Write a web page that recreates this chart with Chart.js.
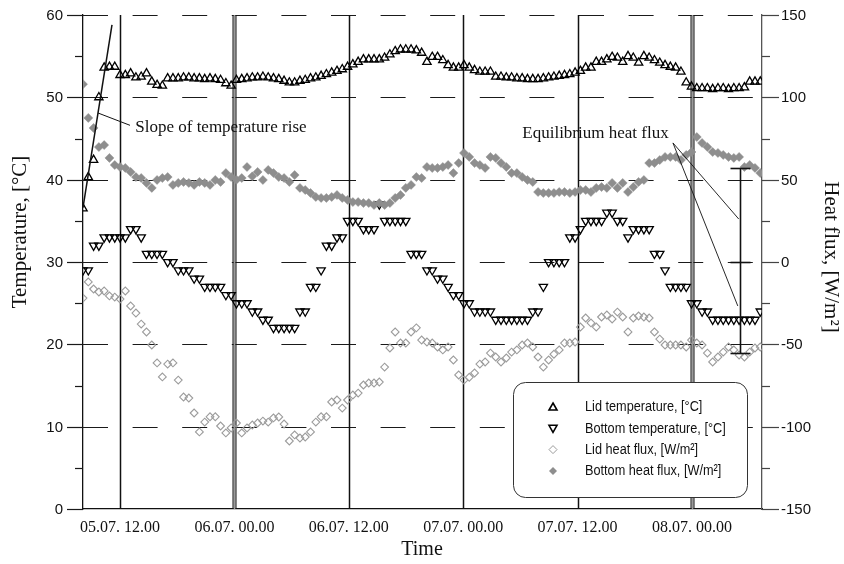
<!DOCTYPE html>
<html lang="en">
<head>
<meta charset="UTF-8">
<title>Lid and bottom temperature / heat flux</title>
<script src="https://cdn.jsdelivr.net/npm/chart.js"></script>
<style>
  html, body { margin: 0; padding: 0; background: #fff; }
  #wrap { width: 844px; height: 564px; }
</style>
</head>
<body>
<div id="wrap"><canvas id="chart" width="844" height="564"></canvas></div>
<script>
// readings start 05.07 ~08:07 and come about every 33 min (hours since 05.07 00:00)
const startHour = 8.12;
const stepHour = 0.555;

const lidTemp = [
  36.5, 40.3, 42.4, 50.0, 53.6, 53.7, 53.7, 52.7, 52.7, 52.9,
  52.4, 52.5, 52.9, 51.9, 51.5, 51.4, 52.3, 52.3, 52.3, 52.4,
  52.4, 52.3, 52.3, 52.2, 52.3, 52.2, 52.1, 51.7, 51.4, 52.1,
  52.2, 52.3, 52.4, 52.4, 52.5, 52.4, 52.3, 52.2, 52.0, 51.8,
  51.8, 52.0, 52.1, 52.3, 52.4, 52.6, 52.8, 53.0, 53.2, 53.4,
  53.7, 54.0, 54.3, 54.6, 54.6, 54.6, 54.6, 54.8, 55.2, 55.6,
  55.8, 55.8, 55.8, 55.7, 55.4, 54.3, 54.9, 54.9, 54.5, 53.9,
  53.6, 53.6, 53.9, 53.6, 53.3, 53.1, 53.1, 53.1, 52.5, 52.5,
  52.4, 52.4, 52.3, 52.3, 52.2, 52.2, 52.2, 52.3, 52.4, 52.5,
  52.6, 52.7, 52.8, 53.0, 53.2, 53.6, 53.6, 54.3, 54.3, 54.6,
  54.9, 54.8, 54.3, 55.0, 54.8, 54.2, 55.0, 54.8, 54.5, 54.2,
  53.9, 53.7, 53.6, 53.1, 51.8, 51.3, 51.1, 51.1, 51.1, 51.0,
  51.1, 51.1, 51.0, 51.1, 51.1, 51.2, 51.9, 51.9, 51.9
];

const bottomTemp = [
  29, 29, 32, 32, 33, 33, 33, 33, 33, 34,
  34, 33, 31, 31, 31, 31, 30, 30, 29, 29,
  29, 28, 28, 27, 27, 27, 27, 26, 26, 25,
  25, 25, 24, 24, 23, 23, 22, 22, 22, 22,
  22, 24, 24, 27, 27, 29, 32, 32, 33, 33,
  35, 35, 35, 34, 34, 34, 37, 35, 35, 35,
  35, 35, 31, 31, 31, 29, 29, 28, 28, 27,
  26, 26, 25, 25, 24, 24, 24, 24, 23, 23,
  23, 23, 23, 23, 23, 24, 24, 27, 30, 30,
  30, 30, 33, 33, 34, 35, 35, 35, 35, 36,
  36, 35, 35, 33, 34, 34, 34, 34, 31, 31,
  29, 27, 27, 27, 27, 25, 25, 24, 24, 23,
  23, 23, 23, 23, 23, 23, 23, 23, 24
];

const lidFlux = [
  -21.9, -12.1, -16.4, -18.2, -17.6, -20.6, -21.3, -22.5, -17.6, -26.7,
  -31.0, -37.7, -42.5, -50.4, -61.3, -69.8, -62.0, -61.3, -71.7, -82.0,
  -82.6, -91.7, -103.2, -97.2, -94.0, -94.0, -99.6, -103.8, -100.8, -97.8,
  -103.8, -100.8, -99.0, -97.8, -96.6, -97.2, -94.7, -94.1, -98.4, -108.7,
  -105.0, -106.9, -106.3, -103.2, -97.2, -94.0, -94.0, -85.0, -83.8, -88.7,
  -83.8, -80.8, -79.6, -74.7, -73.5, -73.5, -72.9, -63.8, -52.2, -42.5,
  -49.2, -49.2, -42.5, -40.0, -47.4, -48.6, -49.2, -51.6, -53.4, -51.6,
  -59.5, -68.6, -71.7, -70.0, -67.4, -62.0, -60.7, -55.3, -57.7, -60.7,
  -58.3, -54.7, -53.4, -50.4, -49.2, -51.6, -57.7, -63.8, -59.5, -56.0,
  -53.4, -49.2, -49.2, -48.6, -39.5, -34.0, -37.0, -39.5, -33.4, -32.2,
  -34.6, -30.4, -33.4, -42.5, -34.0, -32.8, -33.4, -34.0, -42.5, -46.8,
  -50.4, -50.4, -50.4, -50.4, -51.6, -47.4, -49.2, -50.4, -55.3, -60.7,
  -57.7, -54.7, -51.6, -53.4, -56.5, -57.7, -54.7, -52.2, -51.6
];

const bottomFlux = [
  108.0, 87.5, 81.4, 69.8, 71.0, 63.2, 58.9, 57.7, 57.1, 54.7,
  51.6, 51.0, 48.0, 45.0, 49.8, 51.0, 51.6, 46.8, 48.0, 48.6,
  48.0, 46.8, 48.6, 48.0, 46.8, 49.8, 48.6, 54.0, 51.6, 50.0,
  51.0, 57.7, 52.0, 54.7, 49.8, 55.9, 54.0, 51.6, 51.0, 48.6,
  52.8, 45.0, 43.7, 41.9, 39.5, 38.9, 38.9, 39.5, 40.7, 38.9,
  37.7, 36.4, 36.4, 35.8, 35.8, 34.6, 35.8, 34.6, 35.8, 38.9,
  40.7, 45.0, 46.8, 51.6, 51.0, 57.7, 57.1, 57.1, 57.7, 58.9,
  54.0, 60.1, 66.2, 63.8, 60.1, 58.9, 57.1, 63.8, 63.2, 60.1,
  57.7, 54.0, 54.0, 51.6, 49.8, 48.6, 42.5, 41.9, 41.9, 41.9,
  42.5, 42.5, 41.9, 42.5, 43.7, 43.7, 42.5, 45.0, 45.5, 45.0,
  48.0, 45.0, 48.0, 42.5, 45.5, 48.6, 49.8, 60.1, 60.1, 61.9,
  63.8, 63.8, 63.8, 61.9, 65.0, 66.8, 75.9, 72.3, 69.8, 66.8,
  66.2, 65.0, 63.8, 63.2, 63.8, 57.7, 58.9, 57.1, 54.0
];

const tickHours = [12, 24, 36, 48, 60, 72];
const tickLabels = ['05.07. 12.00', '06.07. 00.00', '06.07. 12.00', '07.07. 00.00', '07.07. 12.00', '08.07. 00.00'];
const midnightHours = [24, 72];
const tempTicks = [0, 10, 20, 30, 40, 50, 60];
const fluxTicks = [-150, -100, -50, 0, 50, 100, 150];

const seriesNames = ['Lid temperature, [°C]', 'Bottom temperature, [°C]', 'Lid heat flux, [W/m²]', 'Bottom heat flux, [W/m²]'];

// annotations (hour, value)
const slopeLine = [[8.12, 36.6], [11.16, 58.8]];
const slopePointer = [[9.69, 48.1], [13.05, 46.6]];
const slopeText = { hour: 13.6, temp: 46.3, text: 'Slope of temperature rise' };
const eqText = { hour: 54.2, flux: 78.3, text: 'Equilibrium heat flux' };
const eqPointers = [[[70.0, 72.3], [76.9, 26.1]], [[70.0, 72.3], [76.8, -26.7]]];
const eqBar = { hour: 77.03, top: 57.1, mid: 0, bottom: -55.3 };

const SERIF = '"Liberation Serif", "Times New Roman", serif';
const SANS = '"Liberation Sans", Arial, sans-serif';

const toPts = arr => arr.map((v, i) => ({ x: startHour + i * stepHour, y: v }));

function line(ctx, x1, y1, x2, y2) {
  ctx.beginPath(); ctx.moveTo(x1, y1); ctx.lineTo(x2, y2); ctx.stroke();
}

const decor = {
  id: 'decor',
  beforeDatasetsDraw(chart) {
    const { ctx, chartArea: a, scales: { x, yT, yQ } } = chart;
    ctx.save();
    ctx.strokeStyle = '#1a1a1a';
    ctx.lineWidth = 1.2;
    // dashed horizontal grid
    ctx.setLineDash([25, 24.6]);
    tempTicks.forEach(v => {
      if (v === 0) return;
      const y = Math.round(yT.getPixelForValue(v)) + 0.5;
      line(ctx, a.left, y, a.right, y);
    });
    ctx.setLineDash([]);
    // major + minor ticks and labels, left
    ctx.font = '15px ' + SANS;
    ctx.fillStyle = '#111';
    ctx.textBaseline = 'middle';
    ctx.textAlign = 'right';
    tempTicks.forEach(v => {
      const y = Math.round(yT.getPixelForValue(v)) + 0.5;
      line(ctx, a.left - 16, y, a.left, y);
      ctx.fillText(String(v), a.left - 20, y);
      if (v < 60) {
        const ym = Math.round(yT.getPixelForValue(v + 5)) + 0.5;
        line(ctx, a.left - 8, ym, a.left, ym);
      }
    });
    // right
    ctx.strokeStyle = '#444';
    ctx.textAlign = 'left';
    fluxTicks.forEach(v => {
      const y = Math.round(yQ.getPixelForValue(v)) + 0.5;
      line(ctx, a.right, y, a.right + 17, y);
      ctx.fillText(String(v), a.right + 19, y);
      if (v < 150) {
        const ym = Math.round(yQ.getPixelForValue(v + 25)) + 0.5;
        line(ctx, a.right, ym, a.right + 8, ym);
      }
    });
    // vertical time lines
    tickHours.forEach(h => {
      const px = Math.round(x.getPixelForValue(h)) + 0.5;
      if (midnightHours.includes(h)) {
        ctx.strokeStyle = '#9a9a9a'; ctx.lineWidth = 2;
        line(ctx, px, a.top, px, a.bottom);
        ctx.strokeStyle = '#111'; ctx.lineWidth = 1;
        line(ctx, px - 1.5, a.top, px - 1.5, a.bottom);
        line(ctx, px + 1.5, a.top, px + 1.5, a.bottom);
      } else {
        ctx.strokeStyle = '#111'; ctx.lineWidth = 1.5;
        line(ctx, px, a.top, px, a.bottom);
      }
    });
    ctx.restore();
  },
  afterDatasetsDraw(chart) {
    const { ctx, chartArea: a, scales: { x, yT, yQ } } = chart;
    ctx.save();
    // slope annotation
    ctx.strokeStyle = '#111'; ctx.lineWidth = 1.5;
    line(ctx, x.getPixelForValue(slopeLine[0][0]), yT.getPixelForValue(slopeLine[0][1]),
      x.getPixelForValue(slopeLine[1][0]), yT.getPixelForValue(slopeLine[1][1]));
    ctx.lineWidth = 1;
    line(ctx, x.getPixelForValue(slopePointer[0][0]), yT.getPixelForValue(slopePointer[0][1]),
      x.getPixelForValue(slopePointer[1][0]), yT.getPixelForValue(slopePointer[1][1]));
    ctx.fillStyle = '#111';
    ctx.font = '17px ' + SERIF;
    ctx.textBaseline = 'middle'; ctx.textAlign = 'left';
    ctx.fillText(slopeText.text, x.getPixelForValue(slopeText.hour), yT.getPixelForValue(slopeText.temp));
    // equilibrium annotation
    ctx.fillText(eqText.text, x.getPixelForValue(eqText.hour), yQ.getPixelForValue(eqText.flux));
    ctx.lineWidth = 0.9;
    eqPointers.forEach(p => line(ctx, x.getPixelForValue(p[0][0]), yQ.getPixelForValue(p[0][1]),
      x.getPixelForValue(p[1][0]), yQ.getPixelForValue(p[1][1])));
    const bx = Math.round(x.getPixelForValue(eqBar.hour)) + 0.5;
    ctx.lineWidth = 1.6;
    line(ctx, bx, yQ.getPixelForValue(eqBar.top), bx, yQ.getPixelForValue(eqBar.bottom));
    [eqBar.top, eqBar.mid, eqBar.bottom].forEach(v => {
      const y = Math.round(yQ.getPixelForValue(v)) + 0.5;
      line(ctx, bx - 10, y, bx + 10, y);
    });

    // legend box
    const lx = 513, ly = 382, lw = 234, lh = 115, r = 12;
    ctx.beginPath();
    ctx.roundRect(lx + 0.5, ly + 0.5, lw, lh, r);
    ctx.fillStyle = '#fff'; ctx.fill();
    ctx.strokeStyle = '#333'; ctx.lineWidth = 1; ctx.stroke();
    ctx.font = '15.5px ' + SANS;
    ctx.textBaseline = 'middle'; ctx.textAlign = 'left';
    chart.data.datasets.forEach((ds, i) => {
      const my = ly + 25 + i * 21.3, mx = lx + 40;
      ctx.lineWidth = 1.6;
      ctx.beginPath();
      if (ds.pointStyle === 'triangle') {
        const s = ds.rotation ? -1 : 1;
        ctx.moveTo(mx, my - s * 4); ctx.lineTo(mx + 4, my + s * 3); ctx.lineTo(mx - 4, my + s * 3); ctx.closePath();
        ctx.strokeStyle = '#000'; ctx.stroke();
      } else {
        ctx.moveTo(mx, my - 4); ctx.lineTo(mx + 4, my); ctx.lineTo(mx, my + 4); ctx.lineTo(mx - 4, my); ctx.closePath();
        if (ds.backgroundColor !== 'rgba(0,0,0,0)') { ctx.fillStyle = ds.backgroundColor; ctx.fill(); }
        else { ctx.lineWidth = 1; ctx.strokeStyle = ds.borderColor; ctx.stroke(); }
      }
      // condensed label, like the narrow face of the original
      ctx.fillStyle = '#111';
      ctx.save();
      ctx.translate(lx + 72, my);
      ctx.scale(0.82, 1);
      ctx.fillText(ds.label, 0, 0);
      ctx.restore();
    });

    // axis titles
    ctx.fillStyle = '#111';
    ctx.font = '20px ' + SERIF;
    ctx.textAlign = 'center'; ctx.textBaseline = 'middle';
    ctx.fillText('Time', 422, 550);
    ctx.font = '21px ' + SERIF;
    ctx.save(); ctx.translate(20, 232); ctx.rotate(-Math.PI / 2);
    ctx.fillText('Temperature, [°C]', 0, 0); ctx.restore();
    ctx.save(); ctx.translate(831, 257); ctx.rotate(Math.PI / 2);
    ctx.fillText('Heat flux, [W/m²]', 0, 0); ctx.restore();
    ctx.restore();
  }
};

new Chart(document.getElementById('chart'), {
  type: 'scatter',
  data: {
    datasets: [
      { label: seriesNames[0], data: toPts(lidTemp), yAxisID: 'yT', order: 1,
        pointStyle: 'triangle', pointRadius: 4.8, borderWidth: 1.3,
        borderColor: '#000', backgroundColor: 'rgba(0,0,0,0)' },
      { label: seriesNames[1], data: toPts(bottomTemp), yAxisID: 'yT', order: 1,
        pointStyle: 'triangle', rotation: 180, pointRadius: 4.8, borderWidth: 1.3,
        borderColor: '#000', backgroundColor: 'rgba(0,0,0,0)' },
      { label: seriesNames[2], data: toPts(lidFlux), yAxisID: 'yQ', order: 0,
        pointStyle: 'rectRot', pointRadius: 3.9, borderWidth: 1.1,
        borderColor: '#9c9c9c', backgroundColor: 'rgba(0,0,0,0)' },
      { label: seriesNames[3], data: toPts(bottomFlux), yAxisID: 'yQ', order: 0,
        pointStyle: 'rectRot', pointRadius: 4.5, borderWidth: 0.5,
        borderColor: '#8e8e8e', backgroundColor: '#8e8e8e' }
    ]
  },
  options: {
    responsive: false,
    animation: false,
    devicePixelRatio: 1,
    layout: { padding: { top: 15, left: 0, right: 0, bottom: 0 } },
    plugins: { legend: { display: false }, tooltip: { enabled: false } },
    scales: {
      x: {
        type: 'linear', position: 'bottom', min: 8.12, max: 79.34,
        afterBuildTicks: s => { s.ticks = tickHours.map(v => ({ value: v })); },
        afterFit: s => { s.height = 55; },
        ticks: {
          autoSkip: false, maxRotation: 0, padding: 1, color: '#111',
          font: { family: SERIF, size: 16 },
          callback: v => tickLabels[tickHours.indexOf(v)]
        },
        grid: { display: false },
        border: { display: true, color: '#111', width: 1.3 }
      },
      yT: {
        type: 'linear', position: 'left', min: 0, max: 60,
        afterFit: s => { s.width = 83; },
        ticks: { display: false },
        grid: { display: false },
        border: { display: true, color: '#111', width: 1.3 }
      },
      yQ: {
        type: 'linear', position: 'right', min: -150, max: 150,
        afterFit: s => { s.width = 82; },
        ticks: { display: false },
        grid: { display: false },
        border: { display: true, color: '#555', width: 1.3 }
      }
    }
  },
  plugins: [decor]
});
</script>
</body>
</html>
